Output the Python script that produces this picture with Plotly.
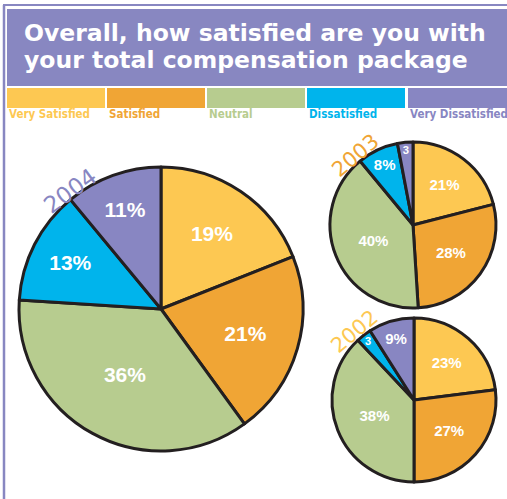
import plotly.graph_objects as go

W, H = 507, 499

categories = ["Very Satisfied", "Satisfied", "Neutral", "Dissatisfied", "Very Dissatisfied"]
colors = ["#FDC852", "#F0A535", "#B7CC8F", "#00B4EC", "#8886C2"]

years = ["2004", "2003", "2002"]
values_2004 = [19, 21, 36, 13, 11]
values_2003 = [21, 28, 40, 8, 3]
values_2002 = [23, 27, 38, 3, 9]
labels_2004 = ["19%", "21%", "36%", "13%", "11%"]
labels_2003 = ["21%", "28%", "40%", "8%", "3"]
labels_2002 = ["23%", "27%", "38%", "3", "9%"]

title_lines = ["Overall, how satisfied are you with", "your total compensation package"]
purple = "#8887C1"

def px_dom(x0, x1, y0, y1):
    return dict(x=[x0 / W, x1 / W], y=[1 - y1 / H, 1 - y0 / H])

pies = [
    (values_2004, labels_2004, px_dom(19, 303, 167, 451), 21),
    (values_2003, labels_2003, px_dom(330, 496, 142, 308), 15),
    (values_2002, labels_2002, px_dom(332, 496, 318, 482), 15),
]

fig = go.Figure()
for vals, labs, dom, fs in pies:
    fig.add_trace(go.Pie(
        labels=categories, values=vals, text=labs,
        texttemplate="<b>%{text}</b>", textinfo="text",
        textposition="inside", insidetextorientation="horizontal",
        sort=False, direction="clockwise", rotation=0,
        marker=dict(colors=colors, line=dict(color="#231F20", width=3)),
        textfont=dict(color="white", size=fs, family="Liberation Sans, Arial, sans-serif"),
        domain=dom, showlegend=False, hoverinfo="label+value",
    ))

shapes = []
# outer frame lines
shapes.append(dict(type="line", xref="paper", yref="paper", x0=3 / W, x1=1, y0=1 - 5 / H, y1=1 - 5 / H,
                   line=dict(color=purple, width=2)))
shapes.append(dict(type="line", xref="paper", yref="paper", x0=4 / W, x1=4 / W, y0=0, y1=1 - 5 / H,
                   line=dict(color=purple, width=2.5)))
# title box
shapes.append(dict(type="rect", xref="paper", yref="paper", x0=7 / W, x1=1, y0=1 - 86 / H, y1=1 - 9 / H,
                   fillcolor=purple, line=dict(width=0), layer="below"))
annotations = []
for i, line in enumerate(title_lines):
    annotations.append(dict(text="<b>" + line + "</b>", xref="paper", yref="paper",
                            x=22 / W, y=1 - (33 + 27 * i) / H, xanchor="left", yanchor="middle",
                            align="left", showarrow=False,
                            font=dict(color="white", size=23.5, family="DejaVu Sans, Verdana, sans-serif")))

# legend bars and labels
bar_x = [7, 107, 207, 307, 408]
bar_w = [98, 98, 98, 98, 99]
for cat, col, bx, bw in zip(categories, colors, bar_x, bar_w):
    shapes.append(dict(type="rect", xref="paper", yref="paper", x0=bx / W, x1=(bx + bw) / W,
                       y0=1 - 108 / H, y1=1 - 88 / H, fillcolor=col, line=dict(width=0)))
    annotations.append(dict(text="<b>" + cat + "</b>", xref="paper", yref="paper", x=bx / W, y=1 - 114 / H,
                            xanchor="left", yanchor="middle", showarrow=False,
                            font=dict(color=col, size=11.5,
                                      family="Liberation Sans Narrow, DejaVu Sans Condensed, Liberation Sans, sans-serif")))

# year labels along pie edges
year_pos = [(70, 191, -36, colors[4], 23), (355, 156, -40, colors[1], 21), (354, 332, -40, colors[0], 21)]
for yr, (xp, yp, ang, col, fs) in zip(years, year_pos):
    annotations.append(dict(text=yr, xref="paper", yref="paper", x=xp / W, y=1 - yp / H,
                            xanchor="center", yanchor="middle", showarrow=False, textangle=ang,
                            font=dict(color=col, size=fs, family="DejaVu Sans, Verdana, sans-serif")))

fig.update_layout(width=W, height=H, margin=dict(l=0, r=0, t=0, b=0),
                  paper_bgcolor="white", plot_bgcolor="white",
                  shapes=shapes, annotations=annotations)

fig.write_html("out.html", config={"displayModeBar": False},
               post_script="document.body.style.margin='0';document.body.style.overflow='hidden';")
